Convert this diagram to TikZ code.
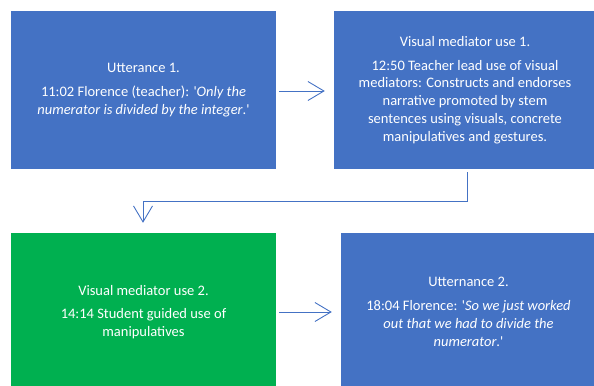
\documentclass[tikz,border=0pt]{standalone}
\usepackage{fontspec}
\setmainfont{Carlito}
\usetikzlibrary{arrows.meta}
\definecolor{boxblue}{HTML}{4472C4}
\definecolor{boxgreen}{HTML}{00B050}
\newcommand{\sq}{\textquotesingle}
\begin{document}
\begin{tikzpicture}[x=1bp,y=-1bp,
  card/.style={draw=none, text=white, align=center, inner sep=0pt,
    font=\fontsize{14.5bp}{17.8bp}\selectfont},
  link/.style={draw=boxblue, line width=0.9bp, -{Straight Barb[length=16bp,width=19bp,line width=0.9bp]}}]
\useasboundingbox (0,0) rectangle (594,385);
\node[card, fill=boxblue, minimum width=265bp, minimum height=158bp] (u1) at (143.5,90)
  {Utterance 1.\\[6bp] 11:02 Florence (teacher): \sq\textit{Only the}\\ \textit{numerator is divided by the integer}.\sq};
\node[card, fill=boxblue, minimum width=262bp, minimum height=158bp] (v1) at (465,90)
  {Visual mediator use 1.\\[6bp] 12:50 Teacher lead use of visual\\ mediators: Constructs and endorses\\ narrative promoted by stem\\ sentences using visuals, concrete\\ manipulatives and gestures.};
\node[card, fill=boxgreen, minimum width=265bp, minimum height=158bp] (v2) at (143.5,312)
  {Visual mediator use 2.\\[6bp] 14:14 Student guided use of\\ manipulatives};
\node[card, fill=boxblue, minimum width=255bp, minimum height=158bp] (u2) at (468.5,312)
  {Utternance 2.\\[6bp] 18:04 Florence: \sq\textit{So we just worked}\\ \textit{out that we had to divide the}\\ \textit{numerator}.\sq};
\coordinate (bend1) at (467,201);
\coordinate (bend2) at (143,201);
\draw[link, shorten <=3bp, shorten >=9bp] ([yshift=-1bp]u1.east) -- ([yshift=-1bp]v1.west);
\draw[link, shorten <=3bp, shorten >=10bp] (v1.south -| bend1) -- (bend1) -- (bend2) -- (bend2 |- v2.north);
\draw[link, shorten <=3bp, shorten >=9bp] (v2.east) -- (u2.west);
\end{tikzpicture}
\end{document}
